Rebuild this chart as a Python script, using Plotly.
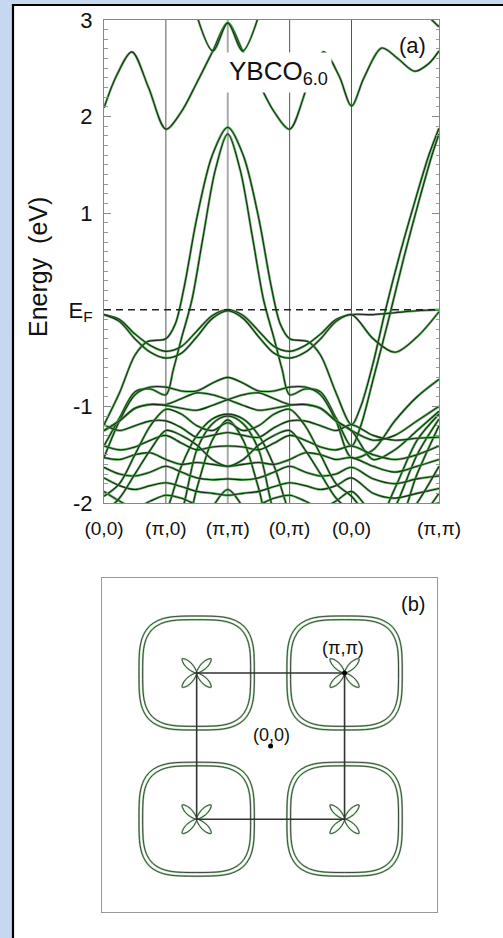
import plotly.graph_objects as go

W, H = 503, 938
FONT = "Liberation Sans, Arial, sans-serif"

# ---------------- panel (a): band structure ----------------
# path (0,0)-(pi,0)-(pi,pi)-(0,pi)-(0,0)-(pi,pi), segment lengths in units of pi
K_TICKS = [0, 1, 2, 3, 4, 5.414]
K_LABELS = ["(0,0)", "(π,0)", "(π,π)", "(0,π)", "(0,0)", "(π,π)"]
E_TICKS = [-2, -1, 0, 1, 2, 3]
E_LABELS = ["-2", "-1", "E<sub>F</sub>", "1", "2", "3"]

# bands with their own k sampling (eV)
U1_K = [0, 0.2, 0.45, 0.72, 1, 1.25, 1.5, 1.76, 2, 2.24, 2.5, 2.75, 3, 3.28, 3.55, 3.8, 4,
        4.2, 4.49, 4.75, 5.02, 5.25, 5.414]
U1_E = [2.09, 2.42, 2.67, 2.30, 1.87, 2.05, 2.35, 2.68, 2.97, 2.68, 2.35, 2.05, 1.87, 2.30, 2.67, 2.42, 2.11,
        2.40, 2.71, 2.60, 2.47, 2.55, 2.68]
U2_K = [1.45, 1.76, 2.0, 2.24, 2.55]
U2_E = [3.15, 2.68, 2.97, 2.68, 3.15]
U3_K = [5.05, 5.414]
U3_E = [3.15, 2.93]

B1_K = [0, 0.25, 0.5, 0.7, 1.0, 1.15, 1.3, 1.5, 1.75, 2, 2.25, 2.5, 2.7, 2.85, 3, 3.3, 3.5, 3.75, 4,
        4.15, 4.35, 4.55, 4.8, 5.05, 5.25, 5.414]
B1_E = [-1.19, -0.86, -0.47, -0.33, -0.30, -0.15, 0.25, 0.95, 1.60, 1.89, 1.60, 0.95, 0.25, -0.15, -0.30,
        -0.33, -0.47, -0.86, -1.19, -1.0, -0.55, 0.0, 0.62, 1.18, 1.60, 1.88]
B2_K = [0, 0.25, 0.5, 0.75, 1.0, 1.12, 1.25, 1.42, 1.6, 1.8, 2, 2.2, 2.4, 2.58, 2.75, 2.88, 3.0, 3.25,
        3.5, 3.75, 4, 4.15, 4.35, 4.6, 4.85, 5.1, 5.3, 5.414]
B2_E = [-1.41, -1.12, -0.85, -0.82, -0.88, -0.62, -0.30, 0.10, 0.75, 1.45, 1.82, 1.45, 0.75, 0.10, -0.30,
        -0.62, -0.88, -0.82, -0.85, -1.12, -1.41, -1.2, -0.72, -0.10, 0.55, 1.15, 1.60, 1.82]

# bands sampled on a common k grid (eV)
K_GRID = [0, 0.25, 0.5, 0.75, 1, 1.25, 1.5, 1.75, 2, 2.25, 2.5, 2.75, 3, 3.25, 3.5, 3.75, 4,
          4.35, 4.7, 5.06, 5.414]
WA_E = [-0.05, -0.10, -0.25, -0.37, -0.43, -0.38, -0.22, -0.06, 0.0, -0.06, -0.22, -0.38, -0.43, -0.37,
        -0.25, -0.10, -0.05, -0.05, -0.03, -0.01, 0.0]
WB_E = [-0.05, -0.12, -0.30, -0.44, -0.50, -0.45, -0.28, -0.09, -0.01, -0.09, -0.28, -0.45, -0.50, -0.44,
        -0.30, -0.12, -0.05, -0.30, -0.44, -0.28, -0.02]
LH_E = [-1.53, -1.15, -0.88, -0.80, -0.80, -0.84, -0.84, -0.76, -0.70, -0.76, -0.84, -0.84, -0.80, -0.80,
        -0.88, -1.15, -1.53, -1.45, -1.15, -0.90, -0.72]
LP_E = [-1.25, -1.15, -1.02, -0.98, -0.98, -0.92, -0.86, -0.88, -0.93, -0.99, -1.04, -1.02, -0.99, -0.98,
        -1.02, -1.15, -1.25, -1.35, -1.30, -1.15, -1.00]
LQ_E = [-1.25, -1.15, -1.02, -0.98, -0.99, -1.02, -1.04, -0.99, -0.93, -0.88, -0.86, -0.92, -0.98, -0.98,
        -1.02, -1.15, -1.25, -1.55, -1.45, -1.25, -1.05]
PA1_E = [-2.4, -2.4, -2.4, -2.35, -2.10, -1.62, -1.30, -1.13, -1.08, -1.13, -1.30, -1.62, -2.10, -2.35,
         -2.4, -2.4, -2.4, -2.30, -1.85, -1.35, -1.08]
PA2_E = [-2.4, -2.4, -2.4, -2.4, -2.4, -2.10, -1.45, -1.18, -1.10, -1.18, -1.45, -2.10, -2.4, -2.4,
         -2.4, -2.4, -2.4, -2.4, -2.05, -1.50, -1.13]
PA3_E = [-2.4, -2.4, -2.4, -2.4, -2.4, -2.4, -1.85, -1.35, -1.14, -1.35, -1.85, -2.4, -2.4, -2.4,
         -2.4, -2.4, -2.4, -2.4, -2.30, -1.70, -1.20]
DOME_E = [-2.4, -2.4, -2.4, -2.4, -2.4, -2.4, -2.4, -2.05, -1.86, -2.05, -2.4, -2.4, -2.4, -2.4,
          -2.4, -2.4, -2.4, -2.4, -2.4, -2.4, -2.4]
F1_E = [-1.19, -1.25, -1.20, -1.15, -1.15, -1.22, -1.32, -1.30, -1.27, -1.30, -1.32, -1.22, -1.15, -1.15,
        -1.20, -1.25, -1.19, -1.30, -1.35, -1.33, -1.32]
F2_E = [-1.41, -1.45, -1.42, -1.35, -1.30, -1.38, -1.45, -1.42, -1.41, -1.42, -1.45, -1.38, -1.30, -1.35,
        -1.42, -1.45, -1.41, -1.50, -1.55, -1.50, -1.41]
F3_E = [-1.53, -1.55, -1.50, -1.48, -1.55, -1.60, -1.58, -1.60, -1.62, -1.60, -1.58, -1.60, -1.55, -1.48,
        -1.50, -1.55, -1.53, -1.62, -1.68, -1.62, -1.55]
F4_E = [-1.63, -1.70, -1.72, -1.68, -1.62, -1.68, -1.74, -1.76, -1.75, -1.76, -1.74, -1.68, -1.62, -1.68,
        -1.72, -1.70, -1.63, -1.75, -1.80, -1.75, -1.72]
F5_E = [-1.74, -1.82, -1.86, -1.82, -1.79, -1.83, -1.88, -1.90, -1.92, -1.90, -1.88, -1.83, -1.79, -1.82,
        -1.86, -1.82, -1.74, -1.90, -1.95, -1.90, -1.85]
F6_E = [-1.88, -1.98, -2.05, -1.98, -1.92, -1.95, -2.02, -2.08, -2.10, -2.08, -2.02, -1.95, -1.92, -1.98,
        -2.05, -1.98, -1.88, -2.10, -2.10, -2.05, -2.00]
R1_E = [-1.93, -1.80, -1.50, -1.20, -1.03, -1.08, -1.20, -1.25, -1.17, -1.25, -1.20, -1.08, -1.03, -1.20,
        -1.50, -1.80, -1.93, -2.20, -2.30, -2.00, -1.62]
R2_E = [-2.10, -1.95, -1.70, -1.45, -1.25, -1.30, -1.40, -1.55, -1.62, -1.55, -1.40, -1.30, -1.25, -1.45,
        -1.70, -1.95, -2.10, -2.40, -2.40, -2.20, -1.90]

# ---------------- panel (b): Fermi surface (units of pi) ----------------
POCKET_CENTERS_X = [-1, 1, -1, 1]
POCKET_CENTERS_Y = [1, 1, -1, -1]
OUTER_X = [0.78, 0.765, 0.718, 0.64, 0.525, 0.36, 0, -0.36, -0.525, -0.64, -0.718, -0.765, -0.78,
           -0.765, -0.718, -0.64, -0.525, -0.36, 0, 0.36, 0.525, 0.64, 0.718, 0.765, 0.78]
OUTER_Y = [0, 0.36, 0.525, 0.64, 0.718, 0.765, 0.78, 0.765, 0.718, 0.64, 0.525, 0.36, 0,
           -0.36, -0.525, -0.64, -0.718, -0.765, -0.78, -0.765, -0.718, -0.64, -0.525, -0.36, 0]
INNER_X = [0.73, 0.716, 0.672, 0.599, 0.491, 0.337, 0, -0.337, -0.491, -0.599, -0.672, -0.716, -0.73,
           -0.716, -0.672, -0.599, -0.491, -0.337, 0, 0.337, 0.491, 0.599, 0.672, 0.716, 0.73]
INNER_Y = [0, 0.337, 0.491, 0.599, 0.672, 0.716, 0.73, 0.716, 0.672, 0.599, 0.491, 0.337, 0,
           -0.337, -0.491, -0.599, -0.672, -0.716, -0.73, -0.716, -0.672, -0.599, -0.491, -0.337, 0]
# small four-lobed pocket around each zone corner, one lobe per diagonal
PETAL_X = [0, 0.035, 0.09, 0.155, 0.195, 0.19, 0.15, 0.085, 0, None,
           0, -0.085, -0.15, -0.19, -0.195, -0.155, -0.09, -0.035, 0, None,
           0, -0.035, -0.09, -0.155, -0.195, -0.19, -0.15, -0.085, 0, None,
           0, 0.085, 0.15, 0.19, 0.195, 0.155, 0.09, 0.035, 0]
PETAL_Y = [0, 0.085, 0.15, 0.19, 0.195, 0.155, 0.09, 0.035, 0, None,
           0, 0.035, 0.09, 0.155, 0.195, 0.19, 0.15, 0.085, 0, None,
           0, -0.085, -0.15, -0.19, -0.195, -0.155, -0.09, -0.035, 0, None,
           0, -0.035, -0.09, -0.155, -0.195, -0.19, -0.15, -0.085, 0]
BZ_X = [-1, 1, 1, -1, -1]
BZ_Y = [-1, -1, 1, 1, -1]
DOT_X = [0, 1]
DOT_Y = [0, 1]

HALO = "rgba(60,165,60,0.8)"
CORE = "#1f281f"

fig = go.Figure()


def band(k, e):
    fig.add_trace(go.Scatter(x=k, y=e, mode="lines", line=dict(color=HALO, width=2.5, shape="spline",
                                                               smoothing=0.9),
                             hoverinfo="skip", showlegend=False, xaxis="x", yaxis="y"))
    fig.add_trace(go.Scatter(x=k, y=e, mode="lines", line=dict(color=CORE, width=1.1, shape="spline",
                                                               smoothing=0.9),
                             hoverinfo="skip", showlegend=False, xaxis="x", yaxis="y"))


for k, e in [(U1_K, U1_E), (U2_K, U2_E), (U3_K, U3_E), (B1_K, B1_E), (B2_K, B2_E)]:
    band(k, e)
for e in [WA_E, WB_E, LH_E, LP_E, LQ_E, PA1_E, PA2_E, PA3_E, DOME_E, F1_E, F2_E, F3_E, F4_E, F5_E,
          F6_E, R1_E, R2_E]:
    band(K_GRID, e)


def contour(xs, ys, cx, cy, halo_w, core_w):
    px_ = [None if v is None else v + cx for v in xs]
    py_ = [None if v is None else v + cy for v in ys]
    fig.add_trace(go.Scatter(x=px_, y=py_, mode="lines",
                             line=dict(color="rgba(80,165,80,0.55)", width=halo_w, shape="spline"),
                             hoverinfo="skip", showlegend=False, xaxis="x2", yaxis="y2"))
    fig.add_trace(go.Scatter(x=px_, y=py_, mode="lines",
                             line=dict(color="#333a33", width=core_w, shape="spline"),
                             hoverinfo="skip", showlegend=False, xaxis="x2", yaxis="y2"))


for cx, cy in zip(POCKET_CENTERS_X, POCKET_CENTERS_Y):
    contour(OUTER_X, OUTER_Y, cx, cy, 2.0, 0.9)
    contour(INNER_X, INNER_Y, cx, cy, 2.0, 0.9)
    contour(PETAL_X, PETAL_Y, cx, cy, 1.8, 0.9)

fig.add_trace(go.Scatter(x=BZ_X, y=BZ_Y, mode="lines", line=dict(color="#333333", width=1.6),
                         hoverinfo="skip", showlegend=False, xaxis="x2", yaxis="y2"))
fig.add_trace(go.Scatter(x=DOT_X, y=DOT_Y, mode="markers", marker=dict(color="black", size=5),
                         hoverinfo="skip", showlegend=False, xaxis="x2", yaxis="y2"))


def pxx(x):
    return x / W


def pyy(y):
    return 1 - y / H


shapes = [
    # white card with black border
    dict(type="rect", xref="paper", yref="paper", x0=pxx(13), x1=1.02, y0=-0.02, y1=pyy(5),
         fillcolor="white", line=dict(color="black", width=2.2), layer="below"),
    # Fermi level
    dict(type="line", xref="x domain", yref="y", x0=0, x1=1, y0=0, y1=0,
         line=dict(color="#222222", width=1.4, dash="7px,5px"), layer="above"),
]
for kv in K_TICKS[1:-1]:
    shapes.append(dict(type="line", xref="x", yref="y domain", x0=kv, x1=kv, y0=0, y1=1,
                       line=dict(color="#aaaaaa" if kv == 2 else "#555555", width=2 if kv == 2 else 1),
                       layer="below"))


def note(text, x, y, size, **kw):
    return dict(text=text, x=pxx(x), y=pyy(y), xref="paper", yref="paper", showarrow=False,
                xanchor="center", yanchor="middle", font=dict(family=FONT, size=size, color="#111"), **kw)


annotations = [
    note("Energy\u00a0\u00a0(eV)", 38, 267, 25, textangle=-90),
    note("(a)", 412, 45, 22),
    note("YBCO<sub>6.0</sub>", 278, 72, 26, bgcolor="white", borderpad=3),
    note("(b)", 413, 604, 20),
    note("(π,π)", 343, 648, 18),
    note("(0,0)", 271, 735, 18),
]

fig.update_layout(
    width=W, height=H, margin=dict(l=0, r=0, t=0, b=0, autoexpand=False),
    paper_bgcolor="#c6d8ef", plot_bgcolor="white",
    shapes=shapes, annotations=annotations, showlegend=False,
    xaxis=dict(domain=[pxx(104), pxx(439)], range=[0, 5.414], tickvals=K_TICKS, ticktext=K_LABELS,
               ticks="", showgrid=False, zeroline=False, showline=True, linecolor="#888888",
               linewidth=1, mirror=True, tickfont=dict(family=FONT, size=19, color="#111"),
               ticklabelstandoff=8, automargin=False, anchor="y"),
    yaxis=dict(domain=[pyy(503), pyy(20)], range=[-2, 3], tickvals=E_TICKS, ticktext=E_LABELS,
               ticks="inside", ticklen=7, tickcolor="#888888", showgrid=False, zeroline=False,
               showline=True, linecolor="#888888", linewidth=1, mirror="allticks",
               minor=dict(dtick=0.1, ticks="inside", ticklen=3.5, tickcolor="#999999", showgrid=False),
               tickfont=dict(family=FONT, size=22, color="#111"), ticklabelstandoff=6,
               automargin=False, anchor="x"),
    xaxis2=dict(domain=[pxx(102), pxx(437)], range=[-2.28, 2.25], showticklabels=False, ticks="",
                showgrid=False, zeroline=False, showline=True, linecolor="#999999", linewidth=1.3,
                mirror=True, automargin=False, anchor="y2"),
    yaxis2=dict(domain=[pyy(912), pyy(578)], range=[-2.27, 2.30], showticklabels=False, ticks="",
                showgrid=False, zeroline=False, showline=True, linecolor="#999999", linewidth=1.3,
                mirror=True, automargin=False, anchor="x2"),
)

fig.write_html("out.html")
